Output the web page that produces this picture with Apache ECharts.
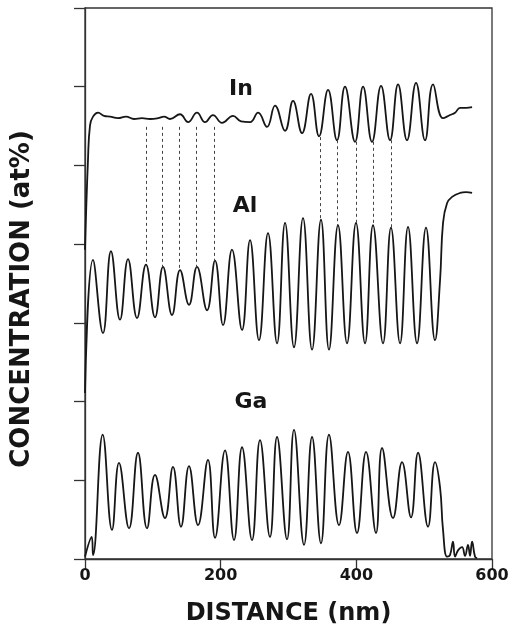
<!DOCTYPE html>
<html>
<head>
<meta charset="utf-8">
<script src="https://cdn.jsdelivr.net/npm/echarts@6/dist/echarts.min.js"></script>
<style>
  html, body { margin: 0; padding: 0; background: #fff; }
  #chart { width: 515px; height: 631px; }
</style>
</head>
<body>
<div id="chart"></div>
<script>
// ---- data (distance in nm, concentration in arbitrary at% units) ----
const inDist = [0, 4.4, 7.4, 11.8, 19.2, 28.0, 36.9, 48.7, 60.4, 72.2, 84.0, 95.8, 107.6, 116.5, 125.3, 140.1, 151.9, 165.1, 176.9, 188.7, 202.0, 218.2, 230.0, 243.3, 255.1, 268.3, 280.1, 294.9, 306.7, 319.9, 333.2, 345.0, 358.3, 371.5, 383.3, 398.1, 409.9, 423.1, 436.4, 449.7, 461.5, 474.7, 488.0, 501.3, 513.1, 527.8, 538.1, 545.5, 552.9, 561.7, 570.6];
const inConc = [39.3, 50.7, 55.1, 56.2, 56.7, 56.3, 56.2, 56.0, 56.2, 55.9, 56.0, 55.9, 56.0, 56.2, 55.9, 56.5, 55.5, 56.7, 55.5, 56.4, 55.4, 56.3, 55.6, 55.5, 56.7, 54.9, 57.6, 54.4, 58.2, 54.1, 59.1, 53.7, 59.6, 53.2, 60.0, 53.0, 60.0, 53.0, 60.1, 53.2, 60.3, 53.2, 60.5, 53.2, 60.3, 56.0, 56.4, 56.7, 57.3, 57.3, 57.4];

const alDist = [0, 11.8, 26.5, 38.3, 51.6, 63.4, 76.7, 89.9, 103.2, 115.0, 128.3, 140.1, 153.3, 165.1, 179.9, 191.7, 203.5, 216.7, 231.5, 243.3, 256.5, 269.8, 283.1, 294.9, 308.1, 321.4, 334.7, 347.9, 359.7, 373.0, 386.3, 399.5, 412.8, 424.6, 439.3, 451.1, 464.4, 476.2, 489.5, 502.7, 516.0, 523.4, 527.8, 533.7, 541.1, 552.9, 561.7, 570.6];
const alConc = [21.1, 38.0, 28.7, 39.1, 30.4, 38.1, 30.6, 37.4, 30.7, 37.1, 31.0, 36.7, 32.3, 37.1, 31.6, 37.9, 29.7, 39.3, 29.1, 40.5, 27.8, 41.4, 27.4, 42.7, 26.9, 43.3, 26.6, 43.1, 26.6, 42.4, 27.4, 42.7, 27.4, 42.4, 27.4, 42.1, 27.4, 42.2, 27.4, 42.1, 27.8, 35.4, 42.7, 45.2, 46.0, 46.5, 46.6, 46.5];

const gaDist = [0, 9.9, 11.8, 26.1, 39.8, 50.1, 64.9, 78.1, 91.4, 103.2, 117.9, 129.7, 141.5, 153.3, 166.6, 181.3, 191.7, 206.4, 219.7, 231.5, 246.2, 258.0, 272.7, 283.1, 297.8, 308.1, 322.9, 334.7, 347.9, 359.7, 374.5, 387.7, 401.0, 414.3, 429.0, 437.9, 454.1, 467.4, 480.6, 491.0, 505.7, 516.0, 523.4, 527.8, 533.7, 538.1, 542.5, 545.5, 549.9, 555.8, 560.2, 564.6, 567.6, 570.6, 575.0, 578.0];
const gaConc = [0.3, 2.8, 0.5, 15.8, 3.7, 12.2, 3.9, 13.5, 3.9, 10.7, 5.2, 11.7, 4.1, 11.8, 4.3, 12.6, 2.7, 13.8, 2.4, 14.2, 2.4, 15.1, 2.8, 15.5, 2.5, 16.4, 1.8, 15.5, 2.0, 15.8, 4.3, 13.6, 3.3, 13.6, 3.3, 14.1, 5.2, 12.3, 5.3, 13.5, 4.1, 12.3, 9.1, 3.7, 0.3, 0.5, 2.2, 0.3, 1.1, 1.5, 0.4, 1.8, 0.4, 2.2, 0.3, 0.1];

// dashed guide lines linking In features to Al peaks
const dashDist   = [89.9, 113.5, 138.6, 163.6, 190.2, 346.5, 371.5, 399.5, 424.6, 451.1];
const dashTop    = [54.9, 54.9, 54.9, 54.9, 54.9, 53.6, 53.2, 53.0, 53.0, 53.2];
const dashBottom = [37.4, 37.1, 36.7, 37.1, 37.9, 43.1, 42.4, 42.7, 42.4, 42.1];

const xTicks = [0, 200, 400, 600];
const seriesNames = ['In', 'Al', 'Ga'];
const xTitle = 'DISTANCE (nm)';
const yTitle = 'CONCENTRATION (at%)';

// ---- build ----
const zip = (a, b) => a.map((v, i) => [v, b[i]]);
const FONT = '"DejaVu Sans", "Liberation Sans", sans-serif';
const INK = '#161616';

const lineSeries = (name, data, extra) => Object.assign({
  name: name,
  type: 'line',
  data: data,
  showSymbol: false,
  smooth: 0.45,
  lineStyle: { color: INK, width: 1.8 },
  z: 3
}, extra || {});

const chart = echarts.init(document.getElementById('chart'), null, { renderer: 'canvas' });
chart.setOption({
  animation: false,
  backgroundColor: '#fff',
  grid: {
    left: 85, right: 23, top: 8, bottom: 72,
    show: true, borderColor: '#333', borderWidth: 1.3, backgroundColor: 'transparent'
  },
  xAxis: {
    type: 'value', min: 0, max: 600, interval: 200,
    axisLine: { show: true, lineStyle: { color: '#333', width: 1.3 } },
    axisTick: { show: true, length: 10, lineStyle: { color: '#333', width: 1.3 } },
    splitLine: { show: false },
    axisLabel: {
      margin: 9, color: INK,
      fontFamily: FONT, fontWeight: 'bold', fontSize: 16
    },
    name: xTitle, nameLocation: 'middle', nameGap: 43,
    nameTextStyle: { fontFamily: FONT, fontWeight: 'bold', fontSize: 24, color: INK }
  },
  yAxis: {
    type: 'value', min: 0, max: 70, interval: 10,
    axisLine: { show: true, lineStyle: { color: '#333', width: 1.3 } },
    axisTick: { show: true, length: 11, lineStyle: { color: '#333', width: 1.3 } },
    axisLabel: { show: false },
    splitLine: { show: false }
  },
  series: [
    lineSeries(seriesNames[0], zip(inDist, inConc)),
    lineSeries(seriesNames[1], zip(alDist, alConc), {
      markLine: {
        silent: true,
        symbol: ['none', 'none'],
        label: { show: false },
        lineStyle: { color: '#444', width: 1, type: [3, 3] },
        data: dashDist.map((d, i) => [
          { coord: [d, dashTop[i]] },
          { coord: [d, dashBottom[i]] }
        ])
      }
    }),
    lineSeries(seriesNames[2], zip(gaDist, gaConc))
  ],
  graphic: [
    {
      type: 'text', x: 22, y: 299, rotation: Math.PI / 2,
      style: { text: yTitle, fill: INK, font: 'bold 26px ' + FONT, align: 'center', verticalAlign: 'middle' }
    },
    {
      type: 'text', x: 241, y: 89,
      style: { text: seriesNames[0], fill: INK, font: 'bold 22px ' + FONT, align: 'center', verticalAlign: 'middle' }
    },
    {
      type: 'text', x: 245, y: 206,
      style: { text: seriesNames[1], fill: INK, font: 'bold 22px ' + FONT, align: 'center', verticalAlign: 'middle' }
    },
    {
      type: 'text', x: 251, y: 402,
      style: { text: seriesNames[2], fill: INK, font: 'bold 22px ' + FONT, align: 'center', verticalAlign: 'middle' }
    }
  ]
});
</script>
</body>
</html>
